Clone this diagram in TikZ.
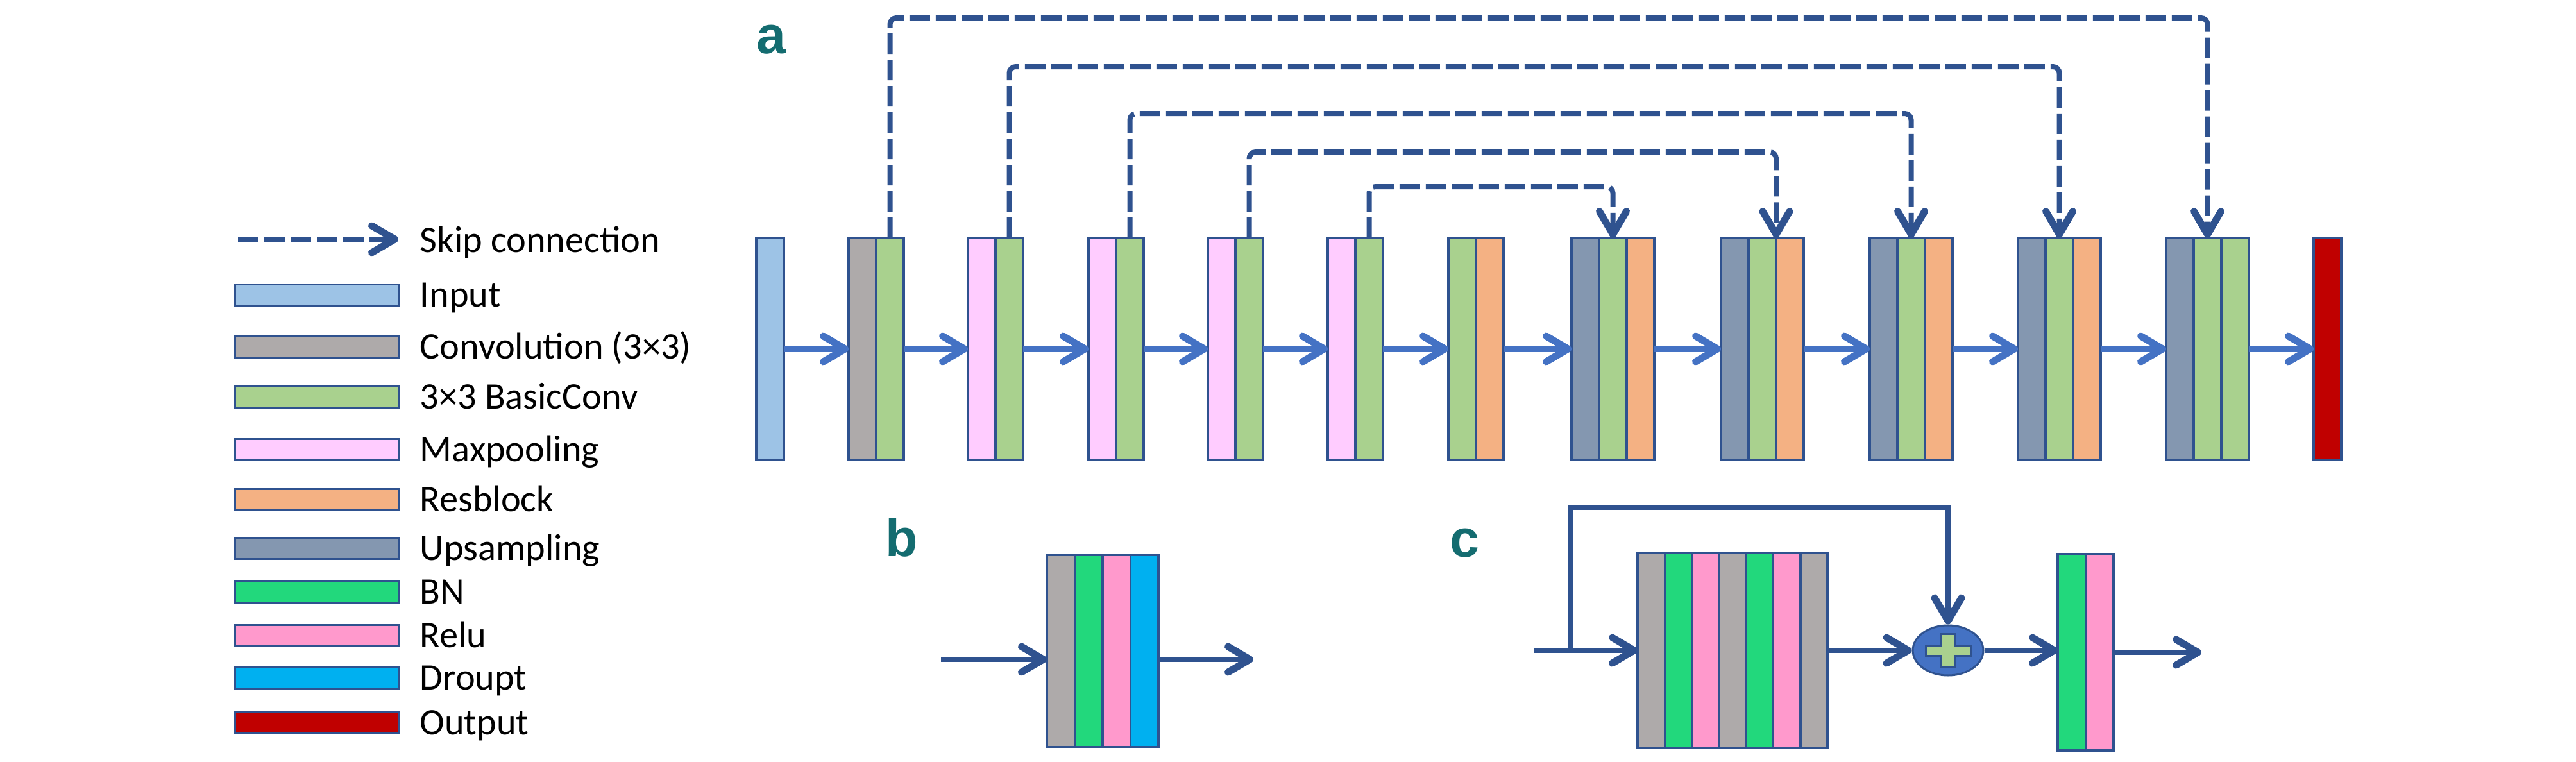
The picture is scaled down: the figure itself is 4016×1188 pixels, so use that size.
\documentclass[tikz,border=0pt]{standalone}
\usepackage{fontspec}
\newfontfamily\legendfont{Carlito}
\newfontfamily\panelfont{Liberation Sans}
\usepackage{tikz}
\usetikzlibrary{arrows.meta,positioning,shapes.geometric}
\definecolor{edgeblue}{HTML}{2F528F}
\definecolor{flowblue}{HTML}{4472C4}
\definecolor{inputblue}{HTML}{9DC3E6}
\definecolor{convgray}{HTML}{AEAAAA}
\definecolor{basicgreen}{HTML}{A9D18E}
\definecolor{poolpink}{HTML}{FFCCFF}
\definecolor{resorange}{HTML}{F4B183}
\definecolor{upslate}{HTML}{8497B0}
\definecolor{bngreen}{HTML}{22D87C}
\definecolor{relupink}{HTML}{FF99CC}
\definecolor{dropblue}{HTML}{00B0F0}
\definecolor{outred}{HTML}{C00000}
\definecolor{labelteal}{HTML}{146C70}
\tikzset{
  layer/.style={draw=edgeblue,line width=.35mm,inner sep=0pt,outer sep=0pt,minimum width=4.3mm,minimum height=34.6mm,anchor=west},
  keybar/.style={draw=edgeblue,line width=.3mm,inner sep=0pt,outer sep=0pt,minimum width=25.6mm,minimum height=3.3mm},
  keytext/.style={font={\legendfont\fontsize{16.6}{20}\selectfont},anchor=base west,inner sep=0pt},
  panel/.style={font={\panelfont\bfseries\fontsize{23.5}{28}\selectfont},text=labelteal,anchor=base,inner sep=0pt},
  flow/.style={-{Straight Barb[length=3.4mm,width=4mm,round,line width=1.1mm]},draw=flowblue,line width=1mm},
  flowdark/.style={flow,draw=edgeblue,line width=.8mm},
  skiplink/.style={draw=edgeblue,line width=.8mm,dash pattern=on 3.2mm off .9mm,rounded corners=1mm,-{Straight Barb[length=3.6mm,width=4.2mm,round,line width=1.1mm]}},
  resline/.style={draw=edgeblue,line width=.8mm,-{Straight Barb[length=3.6mm,width=4.2mm,round,line width=1.1mm]}},
  addnode/.style={ellipse,draw=edgeblue,line width=.3mm,fill=flowblue,inner sep=0pt,minimum width=11mm,minimum height=7.8mm},
}

\begin{document}
\begin{tikzpicture}[x=.1mm,y=-.1mm]
\useasboundingbox (0,0) rectangle (4016,1188);
% legend
\coordinate (keyskipa) at (371,373); \coordinate (keyskipb) at (621,373);
\draw[skiplink] (keyskipa) -- (keyskipb);
\node[keytext] (tskip) at (654,393) {Skip connection};
\node[keybar,fill=inputblue] (kin) at (494,460) {};   \node[keytext] (tin) at (654,478) {Input};
\node[keybar,fill=convgray] (kconv) at (494,541) {};  \node[keytext] (tconv) at (654,559) {Convolution (3×3)};
\node[keybar,fill=basicgreen] (kbasic) at (494,619) {}; \node[keytext] (tbasic) at (654,637) {3×3 BasicConv};
\node[keybar,fill=poolpink] (kpool) at (494,701) {};  \node[keytext] (tpool) at (654,719) {Maxpooling};
\node[keybar,fill=resorange] (kres) at (494,779) {};  \node[keytext] (tres) at (654,797) {Resblock};
\node[keybar,fill=upslate] (kup) at (494,855) {};     \node[keytext] (tup) at (654,873) {Upsampling};
\node[keybar,fill=bngreen] (kbn) at (494,923) {};     \node[keytext] (tbn) at (654,941) {BN};
\node[keybar,fill=relupink] (krelu) at (494,991) {};  \node[keytext] (trelu) at (654,1009) {Relu};
\node[keybar,fill=dropblue] (kdrop) at (494,1057) {}; \node[keytext] (tdrop) at (654,1075) {Droupt};
\node[keybar,fill=outred] (kout) at (494,1127) {};    \node[keytext] (tout) at (654,1145) {Output};

% a: encoder-decoder
\node[panel] (pa) at (1202,83) {a};
\node[layer,fill=inputblue] (in) at (1179,544) {};
\node[layer,fill=convgray] (b1c) at (1323,544) {};
\node[layer,fill=basicgreen,right=0pt of b1c] (b1g) {};
\node[layer,fill=poolpink] (b2p) at (1509,544) {};
\node[layer,fill=basicgreen,right=0pt of b2p] (b2g) {};
\node[layer,fill=poolpink] (b3p) at (1697,544) {};
\node[layer,fill=basicgreen,right=0pt of b3p] (b3g) {};
\node[layer,fill=poolpink] (b4p) at (1883,544) {};
\node[layer,fill=basicgreen,right=0pt of b4p] (b4g) {};
\node[layer,fill=poolpink] (b5p) at (2070,544) {};
\node[layer,fill=basicgreen,right=0pt of b5p] (b5g) {};
\node[layer,fill=basicgreen] (b6g) at (2258,544) {};
\node[layer,fill=resorange,right=0pt of b6g] (b6r) {};
\node[layer,fill=upslate] (b7u) at (2450,544) {};
\node[layer,fill=basicgreen,right=0pt of b7u] (b7g) {};
\node[layer,fill=resorange,right=0pt of b7g] (b7r) {};
\node[layer,fill=upslate] (b8u) at (2683,544) {};
\node[layer,fill=basicgreen,right=0pt of b8u] (b8g) {};
\node[layer,fill=resorange,right=0pt of b8g] (b8r) {};
\node[layer,fill=upslate] (b9u) at (2915,544) {};
\node[layer,fill=basicgreen,right=0pt of b9u] (b9g) {};
\node[layer,fill=resorange,right=0pt of b9g] (b9r) {};
\node[layer,fill=upslate] (b10u) at (3146,544) {};
\node[layer,fill=basicgreen,right=0pt of b10u] (b10g) {};
\node[layer,fill=resorange,right=0pt of b10g] (b10r) {};
\node[layer,fill=upslate] (b11u) at (3377,544) {};
\node[layer,fill=basicgreen,right=0pt of b11u] (b11g) {};
\node[layer,fill=basicgreen,right=0pt of b11g] (b11h) {};
\node[layer,fill=outred] (out) at (3607,544) {};
\draw[flow] (in.east) -- (b1c.west);
\draw[flow] (b1g.east) -- (b2p.west);
\draw[flow] (b2g.east) -- (b3p.west);
\draw[flow] (b3g.east) -- (b4p.west);
\draw[flow] (b4g.east) -- (b5p.west);
\draw[flow] (b5g.east) -- (b6g.west);
\draw[flow] (b6r.east) -- (b7u.west);
\draw[flow] (b7r.east) -- (b8u.west);
\draw[flow] (b8r.east) -- (b9u.west);
\draw[flow] (b9r.east) -- (b10u.west);
\draw[flow] (b10r.east) -- (b11u.west);
\draw[flow] (b11h.east) -- (out.west);
% skip connections
\coordinate (lv1) at (2400,28);  \coordinate (lv2) at (2400,104);
\coordinate (lv3) at (2400,177); \coordinate (lv4) at (2400,237);
\coordinate (lv5) at (2300,291);
\draw[skiplink] (b1g.north) |- (lv1) -| (b11g.north);
\draw[skiplink] (b2g.north) |- (lv2) -| (b10g.north);
\draw[skiplink] (b3g.north) |- (lv3) -| (b9g.north);
\draw[skiplink] (b4g.north) |- (lv4) -| (b8g.north east);
\draw[skiplink] (b5g.north) |- (lv5) -| (b7g.north);

% b: basic conv
\node[panel] (pb) at (1406,867) {b};
\node[layer,fill=convgray,minimum width=4.35mm,minimum height=29.9mm] (bc) at (1632,1015) {};
\node[layer,fill=bngreen,minimum width=4.35mm,minimum height=29.9mm,right=0pt of bc] (bbn) {};
\node[layer,fill=relupink,minimum width=4.35mm,minimum height=29.9mm,right=0pt of bbn] (brelu) {};
\node[layer,fill=dropblue,minimum width=4.35mm,minimum height=29.9mm,right=0pt of brelu] (bdrop) {};
\coordinate (bin) at (1467,1028); \coordinate (bout) at (1954,1028);
\draw[flowdark] (bin) -- (bin -| bc.west);
\draw[flowdark] (bout -| bdrop.east) -- (bout);

% c: resblock
\node[panel] (pc) at (2283,868) {c};
\node[layer,fill=convgray,minimum width=4.23mm,minimum height=30.5mm] (c1) at (2553,1014) {};
\node[layer,fill=bngreen,minimum width=4.23mm,minimum height=30.5mm,right=0pt of c1] (c2) {};
\node[layer,fill=relupink,minimum width=4.23mm,minimum height=30.5mm,right=0pt of c2] (c3) {};
\node[layer,fill=convgray,minimum width=4.23mm,minimum height=30.5mm,right=0pt of c3] (c4) {};
\node[layer,fill=bngreen,minimum width=4.23mm,minimum height=30.5mm,right=0pt of c4] (c5) {};
\node[layer,fill=relupink,minimum width=4.23mm,minimum height=30.5mm,right=0pt of c5] (c6) {};
\node[layer,fill=convgray,minimum width=4.23mm,minimum height=30.5mm,right=0pt of c6] (c7) {};
\node[addnode] (add) at (3037,1014) {};
\draw[draw=edgeblue,line width=.3mm,fill=basicgreen] (add.center) ++(-35,-8) -- ++(24,0) -- ++(0,-18) -- ++(22,0) -- ++(0,18) -- ++(24,0) -- ++(0,16) -- ++(-24,0) -- ++(0,18) -- ++(-22,0) -- ++(0,-18) -- ++(-24,0) -- cycle;
\node[layer,fill=bngreen,minimum width=4.35mm,minimum height=30.6mm] (d1) at (3208,1017) {};
\node[layer,fill=relupink,minimum width=4.35mm,minimum height=30.6mm,right=0pt of d1] (d2) {};
\coordinate (cin) at (2391,1014); \coordinate (cfork) at (2449,1014);
\coordinate (ctop) at (2449,791);  \coordinate (cout) at (3432,1017);
\draw[flowdark] (cin) -- (c1.west);
\draw[resline] (cfork) -- (ctop) -| (add.north);
\draw[flowdark] (c7.east) -- (add.west);
\draw[flowdark] (add.east) -- (add.east -| d1.west);
\draw[flowdark] (d2.east) -- (cout);
\end{tikzpicture}
\end{document}
